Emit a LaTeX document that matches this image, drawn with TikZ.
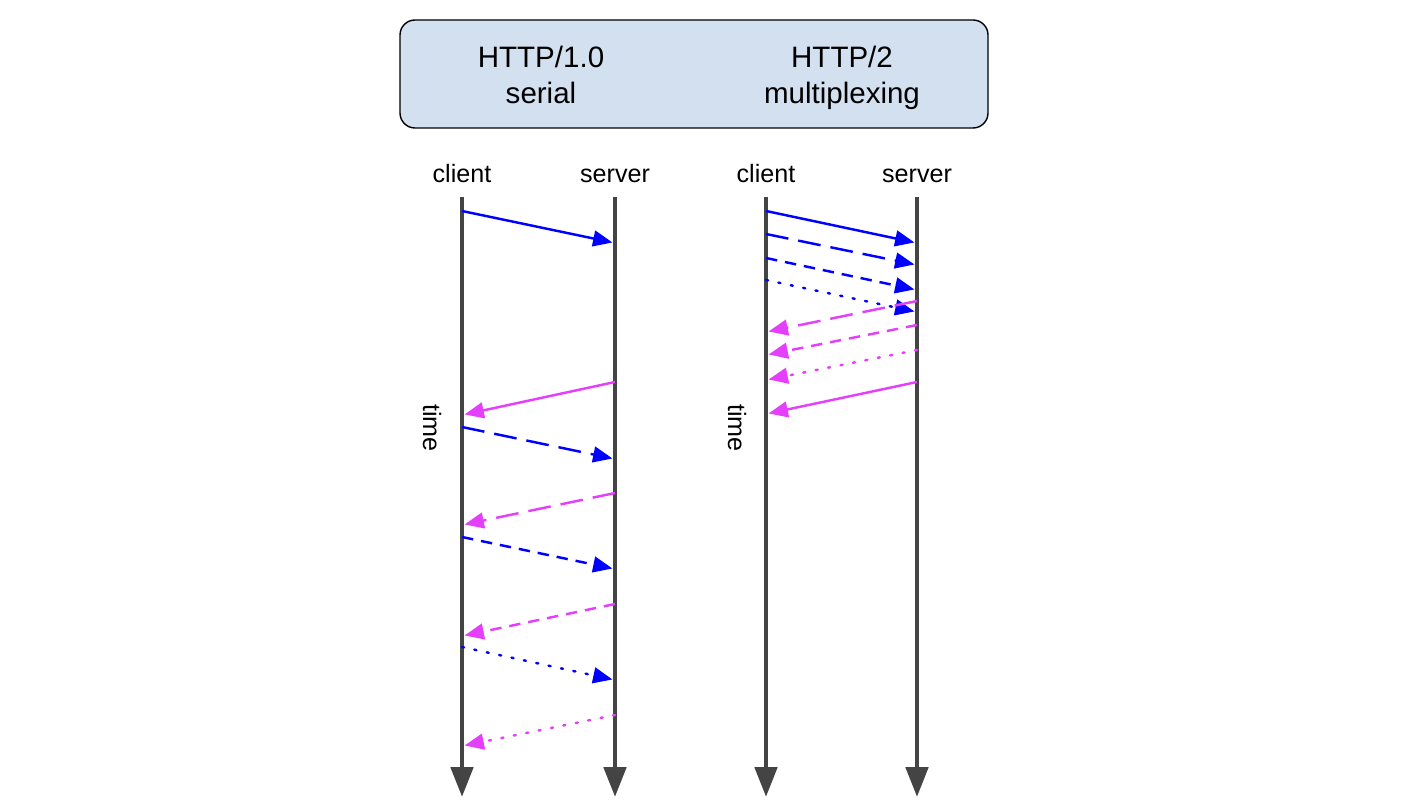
\documentclass[tikz,border=0pt]{standalone}
\usepackage{fontspec}
\setmainfont{Liberation Sans}
\usetikzlibrary{arrows.meta}
\tikzset{>={Triangle[width=9pt,length=11pt]}}
\definecolor{hdrblue}{RGB}{211,224,240}
\definecolor{lifegray}{RGB}{68,68,68}
\definecolor{reqblue}{RGB}{0,0,255}
\definecolor{respmag}{RGB}{228,64,251}

\begin{document}
\begin{tikzpicture}[
    x = 0.02cm, y = -0.02cm,
    hdr/.style = {draw, line width=0.8pt, rounded corners=0.3cm, fill=hdrblue},
    hdrtext/.style = {font=\fontsize{16.8}{20.4}\selectfont, align=center},
    lbl/.style = {font=\fontsize{14.3}{16}\selectfont, inner sep=0pt},
    life/.style = {line width=2.8pt, lifegray, -{Triangle[width=12.5pt,length=17pt]}},
    req/.style = {reqblue, line width=1.4pt, ->, shorten >=1.5pt},
    resp/.style = {respmag, line width=1.4pt, ->, shorten >=1.5pt},
    longdash/.style = {dash pattern=on 13pt off 5.7pt},
    middash/.style = {dash pattern=on 6.5pt off 4.5pt},
    dotline/.style = {line cap=round, dash pattern=on 1.2pt off 6pt}
  ]
  \useasboundingbox (0,0) rectangle (1408,810);

  \draw[hdr] (400,20) rectangle (988,128);
  \node[hdrtext] (v1) at (541,78) {HTTP/1.0\strut\\serial\strut};
  \node[hdrtext] (v2) at (842,78) {HTTP/2\strut\\multiplexing\strut};

  \foreach \d/\xc/\xs/\xt in {l/462/615/432, r/766/917/737} {
    \node[lbl, anchor=base] (\d-cli) at (\xc,183) {client};
    \node[lbl, anchor=base] (\d-srv) at (\xs,183) {server};
    \node[lbl, rotate=-90] (\d-time) at (\xt,428) {time};
    \coordinate (\d-clitop) at (\xc,197);
    \coordinate (\d-clibot) at (\xc,797);
    \coordinate (\d-srvtop) at (\xs,197);
    \coordinate (\d-srvbot) at (\xs,797);
    \draw[life] (\d-clitop) -- (\d-clibot);
    \draw[life] (\d-srvtop) -- (\d-srvbot);
  }

  % HTTP/1.0
  \foreach \xa/\ya/\xb/\yb/\kind/\pat [count=\i] in {
      462/211/615/243/req/solid, 615/382/462/415/resp/solid,
      462/427/615/459/req/longdash, 615/493/462/525/resp/longdash,
      462/537/615/569/req/middash, 615/604/462/636/resp/middash,
      462/647/615/680/req/dotline, 615/715/462/746/resp/dotline} {
    \coordinate (ls\i) at (\xa,\ya);
    \coordinate (le\i) at (\xb,\yb);
    \draw[\kind, \pat] (ls\i) -- (le\i);
  }

  % HTTP/2
  \foreach \xa/\ya/\xb/\yb/\kind/\pat [count=\i] in {
      766/211/917/243/req/solid, 766/234/917/265/req/longdash,
      766/258/917/290/req/middash, 766/280/917/312/req/dotline,
      917/301/766/332/resp/longdash, 917/325/766/355/resp/middash,
      917/350/766/380/resp/dotline, 917/382/766/414/resp/solid} {
    \coordinate (rs\i) at (\xa,\ya);
    \coordinate (re\i) at (\xb,\yb);
    \draw[\kind, \pat] (rs\i) -- (re\i);
  }
\end{tikzpicture}
\end{document}
